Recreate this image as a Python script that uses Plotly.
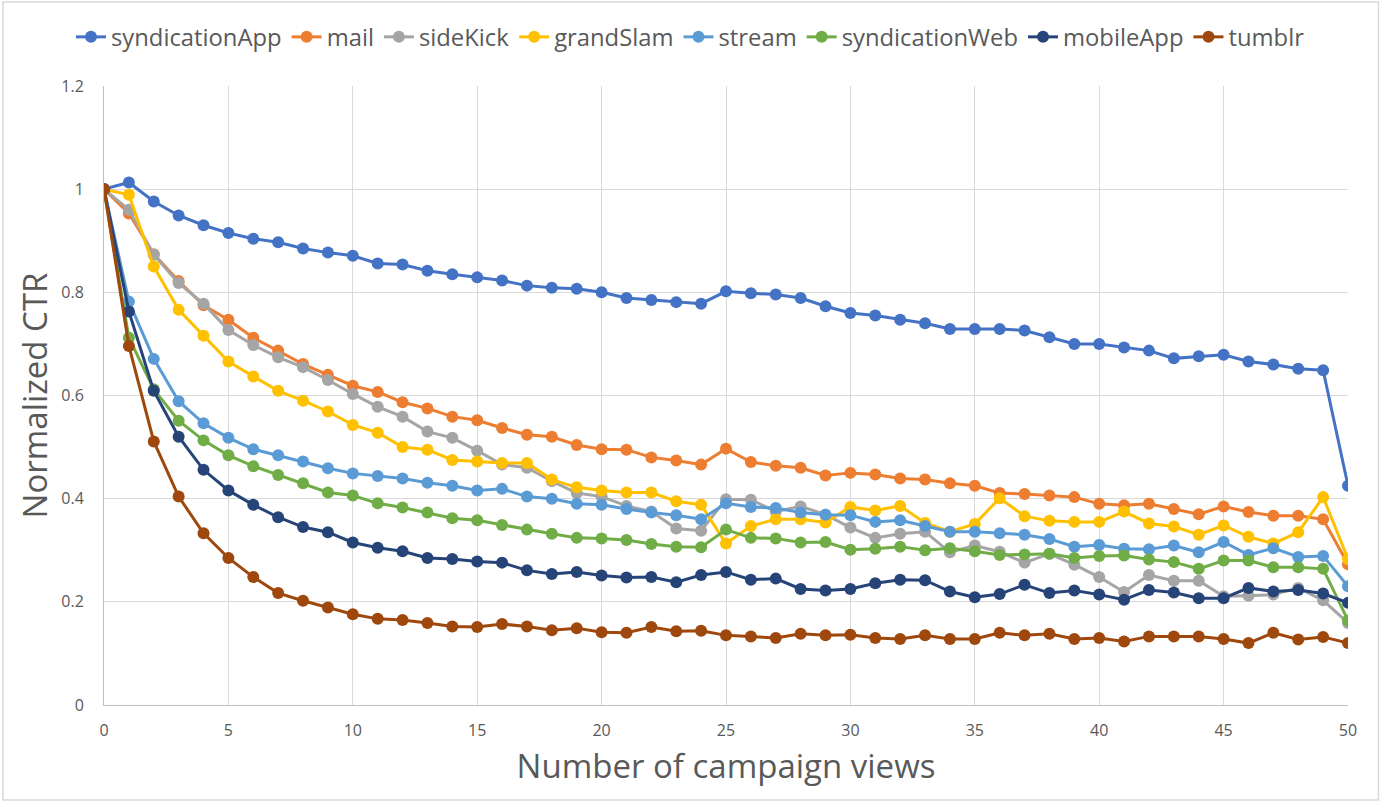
import plotly.graph_objects as go

views = list(range(51))

syndicationApp = [1.0, 1.013, 0.976, 0.949, 0.930, 0.915, 0.904, 0.897, 0.885, 0.877, 0.871, 0.856, 0.854,
                  0.842, 0.835, 0.829, 0.823, 0.813, 0.809, 0.807, 0.800, 0.789, 0.785, 0.781, 0.778, 0.802,
                  0.798, 0.796, 0.789, 0.773, 0.760, 0.755, 0.747, 0.740, 0.729, 0.729, 0.729, 0.726, 0.713,
                  0.700, 0.700, 0.693, 0.687, 0.672, 0.676, 0.679, 0.666, 0.660, 0.652, 0.649, 0.425]
mail = [1.0, 0.953, 0.874, 0.822, 0.775, 0.747, 0.712, 0.687, 0.661, 0.640, 0.619, 0.607, 0.587,
        0.575, 0.559, 0.552, 0.537, 0.524, 0.520, 0.504, 0.496, 0.495, 0.480, 0.474, 0.466, 0.497,
        0.471, 0.464, 0.460, 0.445, 0.450, 0.447, 0.439, 0.437, 0.430, 0.425, 0.411, 0.409, 0.406,
        0.403, 0.390, 0.387, 0.390, 0.380, 0.370, 0.385, 0.374, 0.367, 0.367, 0.360, 0.273]
sideKick = [1.0, 0.960, 0.873, 0.818, 0.778, 0.727, 0.698, 0.674, 0.655, 0.630, 0.603, 0.578, 0.559,
            0.530, 0.518, 0.493, 0.466, 0.460, 0.434, 0.411, 0.404, 0.386, 0.375, 0.342, 0.338, 0.399,
            0.398, 0.375, 0.385, 0.369, 0.344, 0.324, 0.332, 0.336, 0.296, 0.309, 0.297, 0.276, 0.293,
            0.272, 0.248, 0.219, 0.252, 0.241, 0.241, 0.211, 0.212, 0.214, 0.227, 0.203, 0.159]
grandSlam = [1.0, 0.989, 0.850, 0.766, 0.716, 0.666, 0.637, 0.609, 0.590, 0.569, 0.543, 0.528, 0.500,
             0.495, 0.475, 0.472, 0.469, 0.469, 0.437, 0.422, 0.416, 0.412, 0.412, 0.395, 0.388, 0.313,
             0.347, 0.360, 0.360, 0.354, 0.384, 0.377, 0.386, 0.353, 0.336, 0.351, 0.401, 0.366, 0.357,
             0.355, 0.355, 0.375, 0.352, 0.346, 0.330, 0.348, 0.326, 0.313, 0.335, 0.403, 0.283]
stream = [1.0, 0.782, 0.671, 0.589, 0.546, 0.518, 0.496, 0.484, 0.472, 0.459, 0.449, 0.444, 0.439,
          0.431, 0.425, 0.416, 0.419, 0.404, 0.400, 0.390, 0.388, 0.380, 0.373, 0.368, 0.360, 0.391,
          0.384, 0.382, 0.373, 0.369, 0.368, 0.355, 0.358, 0.347, 0.336, 0.336, 0.333, 0.330, 0.322,
          0.307, 0.310, 0.303, 0.302, 0.309, 0.296, 0.316, 0.291, 0.304, 0.287, 0.289, 0.230]
syndicationWeb = [1.0, 0.712, 0.612, 0.551, 0.513, 0.484, 0.463, 0.446, 0.430, 0.412, 0.406, 0.391, 0.383,
                  0.373, 0.362, 0.358, 0.349, 0.340, 0.332, 0.324, 0.323, 0.320, 0.312, 0.307, 0.306, 0.340,
                  0.324, 0.323, 0.315, 0.316, 0.301, 0.303, 0.307, 0.300, 0.304, 0.298, 0.291, 0.292, 0.293,
                  0.285, 0.289, 0.290, 0.282, 0.277, 0.264, 0.280, 0.280, 0.267, 0.267, 0.264, 0.164]
mobileApp = [1.0, 0.763, 0.609, 0.520, 0.456, 0.416, 0.388, 0.364, 0.345, 0.335, 0.315, 0.305, 0.298,
             0.285, 0.283, 0.278, 0.276, 0.261, 0.254, 0.258, 0.251, 0.247, 0.248, 0.238, 0.252, 0.258,
             0.243, 0.245, 0.225, 0.222, 0.225, 0.236, 0.243, 0.242, 0.220, 0.209, 0.215, 0.233, 0.217,
             0.222, 0.214, 0.204, 0.223, 0.218, 0.207, 0.207, 0.227, 0.220, 0.223, 0.216, 0.198]
tumblr = [1.0, 0.696, 0.511, 0.404, 0.333, 0.285, 0.248, 0.217, 0.202, 0.189, 0.176, 0.167, 0.165,
          0.159, 0.152, 0.151, 0.157, 0.152, 0.145, 0.149, 0.141, 0.140, 0.151, 0.143, 0.144, 0.135,
          0.133, 0.130, 0.138, 0.135, 0.136, 0.130, 0.128, 0.135, 0.128, 0.128, 0.140, 0.135, 0.138,
          0.128, 0.130, 0.123, 0.133, 0.133, 0.133, 0.128, 0.120, 0.140, 0.127, 0.132, 0.120]

series_names = ["syndicationApp", "mail", "sideKick", "grandSlam", "stream",
                "syndicationWeb", "mobileApp", "tumblr"]
series_values = [syndicationApp, mail, sideKick, grandSlam, stream,
                 syndicationWeb, mobileApp, tumblr]
colors = ["#4472C4", "#ED7D31", "#A5A5A5", "#FFC000", "#5B9BD5",
          "#70AD47", "#264478", "#9E480E"]

x_ticks = [0, 5, 10, 15, 20, 25, 30, 35, 40, 45, 50]
y_ticks = [0, 0.2, 0.4, 0.6, 0.8, 1.0, 1.2]
y_tick_labels = ["0", "0.2", "0.4", "0.6", "0.8", "1", "1.2"]

FONT = "Open Sans"
TXT = "#595959"

fig = go.Figure()
for name, vals, col in zip(series_names, series_values, colors):
    fig.add_trace(go.Scatter(
        x=views, y=vals, name=name, mode="lines+markers",
        line=dict(color=col, width=3),
        marker=dict(color=col, size=12),
    ))

fig.update_layout(
    width=1381, height=802,
    margin=dict(l=104, r=33, t=86, b=97),
    paper_bgcolor="white", plot_bgcolor="white",
    font=dict(family=FONT, color=TXT),
    showlegend=True,
    legend=dict(orientation="h", xref="container", yref="container",
                x=0.5, xanchor="center", y=0.954, yanchor="middle",
                font=dict(size=23.8, color=TXT, family=FONT),
                itemwidth=30, tracegroupgap=0, traceorder="normal"),
    xaxis=dict(range=[0, 50], tickvals=x_ticks, showgrid=True, gridcolor="#D9D9D9",
               gridwidth=1, showline=True, linecolor="#BFBFBF", linewidth=1,
               zeroline=False, ticks="", ticklabelstandoff=11,
               tickfont=dict(size=16, color=TXT, family=FONT),
               title=dict(text="Number of campaign views", standoff=14,
                          font=dict(size=33, color=TXT, family=FONT))),
    yaxis=dict(range=[0, 1.2], tickvals=y_ticks, ticktext=y_tick_labels, showgrid=True,
               gridcolor="#D9D9D9", gridwidth=1, showline=True, linecolor="#BFBFBF",
               linewidth=1, zeroline=False, ticks="", ticklabelstandoff=16,
               tickfont=dict(size=16, color=TXT, family=FONT),
               title=dict(text="Normalized CTR", standoff=3,
                          font=dict(size=33, color=TXT, family=FONT))),
    shapes=[dict(type="rect", xref="paper", yref="paper",
                 x0=-0.0812, x1=1.0245, y0=-0.1535, y1=1.1357,
                 line=dict(color="#D9D9D9", width=1.5), fillcolor="rgba(0,0,0,0)", layer="below")],
)

fig.write_html("out.html", config={"displayModeBar": False},
               post_script="document.body.style.margin='0';")
